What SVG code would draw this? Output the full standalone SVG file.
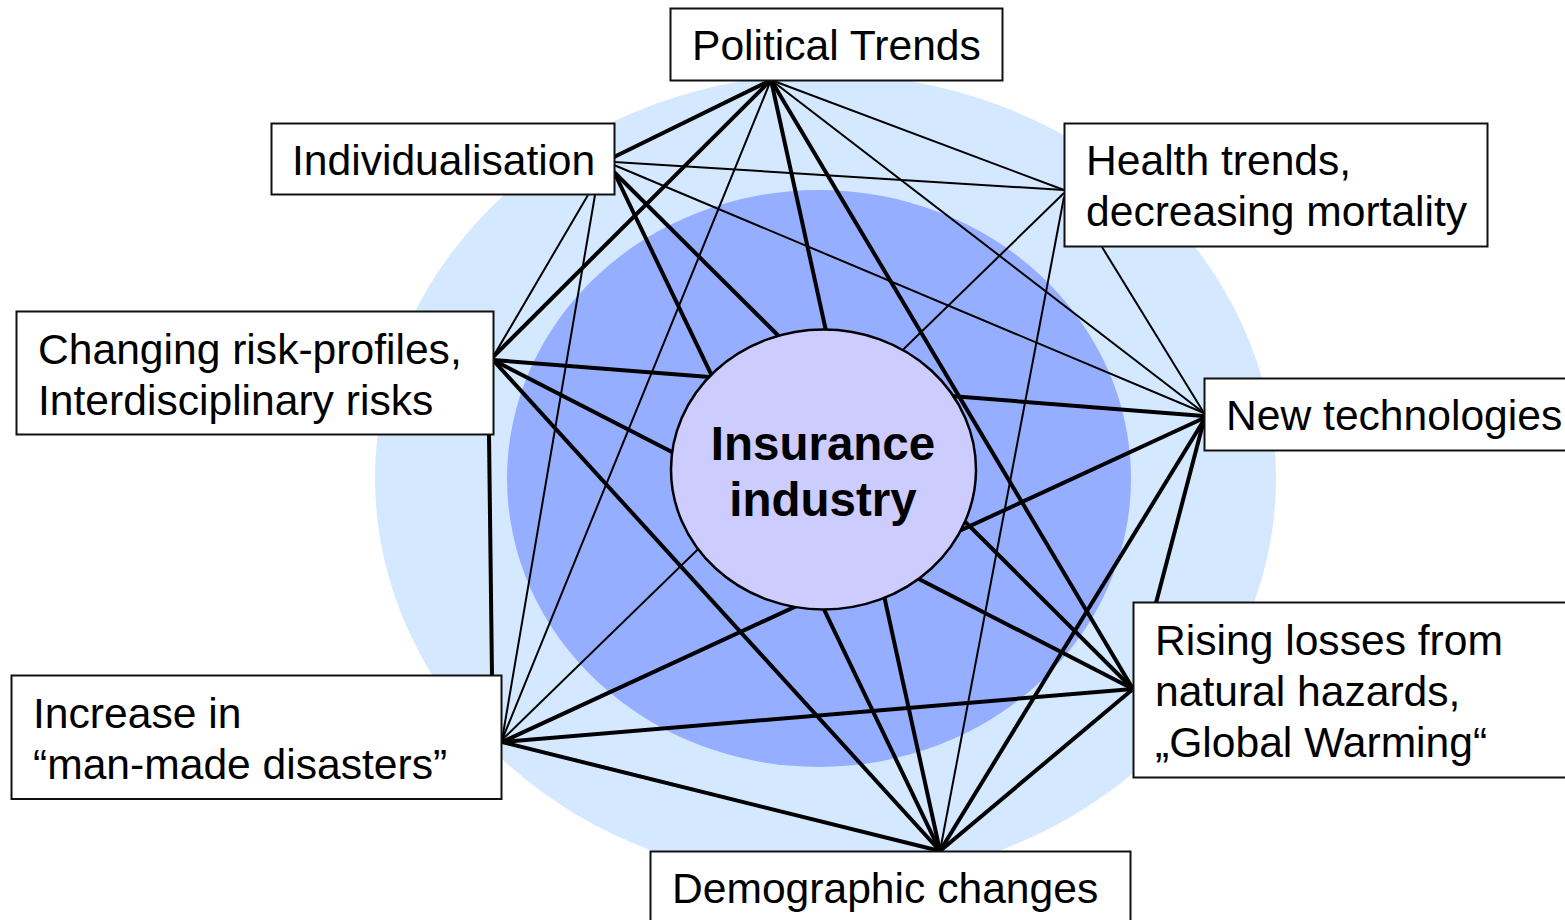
<svg xmlns="http://www.w3.org/2000/svg" width="1565" height="920" viewBox="0 0 1565 920">
  <style>
    .box { fill: #ffffff; stroke: #111111; stroke-width: 2; }
    .lbl { font-family: "Liberation Sans", Arial, sans-serif; font-size: 42.6px; fill: #000000; }
    .core { font-family: "Liberation Sans", Arial, sans-serif; font-size: 47.5px; font-weight: bold; fill: #000000; }
    .thick { stroke: #000000; stroke-width: 4; fill: none; }
    .thin { stroke: #000000; stroke-width: 2; fill: none; }
  </style>

  <!-- background halos -->
  <rect x="0" y="0" width="1565" height="920" fill="#ffffff"/>
  <ellipse cx="825.5" cy="478" rx="450.5" ry="404" fill="#d4e8ff"/>
  <ellipse cx="819" cy="478.5" rx="312" ry="288.5" fill="#96aeff"/>

  <!-- links between the trend boxes -->
  <g id="connectors">
    <line class="thick" x1="771" y1="80" x2="614" y2="157"/>
    <line class="thick" x1="771" y1="80" x2="493" y2="357"/>
    <line class="thick" x1="771" y1="80" x2="940" y2="851"/>
    <line class="thick" x1="771" y1="80" x2="1133" y2="689"/>
    <line class="thick" x1="614" y1="172" x2="1133" y2="689"/>
    <line class="thick" x1="614" y1="172" x2="940" y2="851"/>
    <line class="thick" x1="493" y1="360" x2="1204" y2="416"/>
    <line class="thick" x1="493" y1="360" x2="1133" y2="689"/>
    <line class="thick" x1="493" y1="360" x2="940" y2="851"/>
    <line class="thick" x1="489" y1="435" x2="492" y2="676"/>
    <line class="thick" x1="1204" y1="418" x2="502" y2="742"/>
    <line class="thick" x1="1204" y1="420" x2="940" y2="851"/>
    <line class="thick" x1="1204" y1="420" x2="1156" y2="603"/>
    <line class="thick" x1="1133" y1="689" x2="502" y2="742"/>
    <line class="thick" x1="1133" y1="689" x2="940" y2="851"/>
    <line class="thick" x1="502" y1="742" x2="940" y2="851"/>

    <line class="thin" x1="771" y1="80" x2="1064" y2="190"/>
    <line class="thin" x1="771" y1="80" x2="1204" y2="413"/>
    <line class="thin" x1="771" y1="80" x2="502" y2="740"/>
    <line class="thin" x1="614" y1="162" x2="1064" y2="190"/>
    <line class="thin" x1="614" y1="165" x2="1204" y2="413"/>
    <line class="thin" x1="588" y1="195" x2="493" y2="357"/>
    <line class="thin" x1="595" y1="195" x2="502" y2="740"/>
    <line class="thin" x1="1102" y1="247" x2="1204" y2="413"/>
    <line class="thin" x1="1064" y1="193" x2="502" y2="740"/>
    <line class="thin" x1="1064" y1="197" x2="940" y2="851"/>
  </g>

  <!-- central node -->
  <g id="insurance-industry">
    <ellipse cx="823.5" cy="469.5" rx="152.5" ry="140" fill="#ccccff" stroke="#000000" stroke-width="2.5"/>
    <text class="core" x="823" y="460" text-anchor="middle">Insurance</text>
    <text class="core" x="823" y="516" text-anchor="middle">industry</text>
  </g>

  <g id="political-trends">
    <rect class="box" x="670.5" y="8.5" width="332" height="72"/>
    <text class="lbl" x="692" y="60">Political Trends</text>
  </g>

  <g id="individualisation">
    <rect class="box" x="271.5" y="123.5" width="343" height="71"/>
    <text class="lbl" x="292" y="175">Individualisation</text>
  </g>

  <g id="health-trends">
    <rect class="box" x="1064.5" y="123.5" width="423" height="123"/>
    <text class="lbl" x="1086" y="175">Health trends,</text>
    <text class="lbl" x="1086" y="226">decreasing mortality</text>
  </g>

  <g id="risk-profiles">
    <rect class="box" x="16.5" y="311.5" width="477" height="123"/>
    <text class="lbl" x="38" y="364">Changing risk-profiles,</text>
    <text class="lbl" x="38" y="415">Interdisciplinary risks</text>
  </g>

  <g id="new-technologies">
    <rect class="box" x="1204.5" y="378.5" width="380" height="72"/>
    <text class="lbl" x="1226" y="430">New technologies</text>
  </g>

  <g id="natural-hazards">
    <rect class="box" x="1133.5" y="602.5" width="450" height="175"/>
    <text class="lbl" x="1155" y="655">Rising losses from</text>
    <text class="lbl" x="1155" y="706">natural hazards,</text>
    <text class="lbl" x="1155" y="757">„Global Warming“</text>
  </g>

  <g id="man-made-disasters">
    <rect class="box" x="11.5" y="675.5" width="490" height="123.5"/>
    <text class="lbl" x="33" y="728">Increase in</text>
    <text class="lbl" x="33" y="779">“man-made disasters”</text>
  </g>

  <g id="demographic-changes">
    <rect class="box" x="650.5" y="851.5" width="480" height="80"/>
    <text class="lbl" x="672" y="903">Demographic changes</text>
  </g>
</svg>
